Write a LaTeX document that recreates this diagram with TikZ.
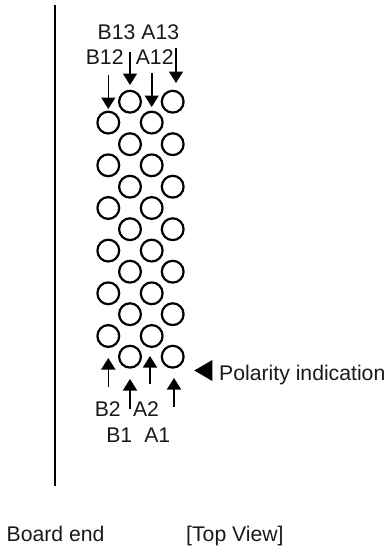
\documentclass[tikz,border=0pt]{standalone}
\usepackage{fontspec}
\setmainfont{Liberation Sans}
\usetikzlibrary{arrows.meta}
\tikzset{
  x=1pt,y=-1pt,
  pin/.style={circle,draw=black,line width=2.2pt,minimum size=21.8pt,inner sep=0pt},
  lbl/.style={inner sep=0pt,anchor=base,font=\fontsize{21.2}{21.2}\selectfont,text=black!90},
  arr/.style={line width=1.6pt,-{Triangle[length=11.5pt,width=14pt]}},
}
\begin{document}
\begin{tikzpicture}
\useasboundingbox (0,0) rectangle (390,551);
\draw[line width=2.7pt] (55,5) coordinate (t) -- (55,486) coordinate (b);
\foreach \i/\y in {1/356.7,3/314.2,5/271.7,7/229.2,9/186.7,11/144.2,13/101.7}{
  \node[pin] (B\i) at (130,\y) {};
  \node[pin] (A\i) at (172.7,\y) {};
}
\foreach \i/\y in {2/336,4/293.3,6/250.6,8/208,10/165.3,12/122.6}{
  \node[pin] (B\i) at (108.3,\y) {};
  \node[pin] (A\i) at (151.7,\y) {};
}
\node[lbl] (lB13) at (116.5,39.3) {B13};
\node[lbl] (lA13) at (160.3,39.3) {A13};
\node[lbl] (lB12) at (104.7,64) {B12};
\node[lbl] (lA12) at (154.7,64) {A12};
\node[lbl] (lB2) at (107.8,416.7) {B2};
\node[lbl] (lA2) at (146,416.7) {A2};
\node[lbl] (lB1) at (119.3,442) {B1};
\node[lbl] (lA1) at (157.3,442) {A1};
\node[lbl,anchor=base west] (pol) at (219,380) {Polarity indication};
\node[lbl,anchor=base west] (be) at (6.5,541.7) {Board end};
\node[lbl,anchor=base west] (tv) at (186,541.7) {[Top View]};
\fill (194.3,370.5) coordinate (tipP) -- (212.3,360) -- (212.3,381) -- cycle;
\coordinate (a1s) at (108.3,75); \coordinate (a1e) at (108.3,109);
\coordinate (a2s) at (130,52); \coordinate (a2e) at (130,85);
\coordinate (a3s) at (151.7,73); \coordinate (a3e) at (151.7,107);
\coordinate (a4s) at (176,48); \coordinate (a4e) at (176,83);
\coordinate (b1s) at (108.3,387); \coordinate (b1e) at (108.3,358);
\coordinate (b2s) at (130,409); \coordinate (b2e) at (130,379);
\coordinate (b3s) at (150,384); \coordinate (b3e) at (150,356);
\coordinate (b4s) at (174,407); \coordinate (b4e) at (174,378);
\foreach \s/\e in {a1s/a1e,a2s/a2e,a3s/a3e,a4s/a4e,b1s/b1e,b2s/b2e,b3s/b3e,b4s/b4e}
  \draw[arr] (\s) -- (\e);
\end{tikzpicture}
\end{document}
